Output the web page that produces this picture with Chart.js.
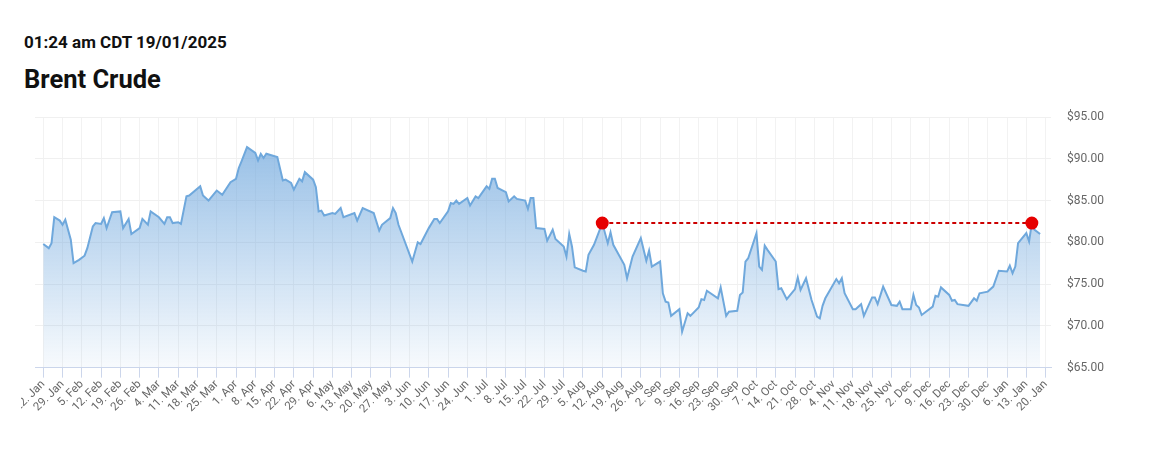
<!DOCTYPE html>
<html>
<head>
<meta charset="utf-8">
<script src="https://cdn.jsdelivr.net/npm/chart.js@4.4.1/dist/chart.umd.min.js"></script>
<style>
    body { margin: 0; background: #fff; font-family: Roboto, Arial, sans-serif; }
    #stamp { position: absolute; left: 24px; top: 32px; font-size: 17px; font-weight: bold; color: #111; }
    #title { position: absolute; left: 24px; top: 64px; font-size: 25.5px; font-weight: bold; color: #111; }
    #clip { position: absolute; left: 21px; top: 100px; width: 1139px; height: 316px; overflow: hidden; }
    #wrap { position: relative; left: -21px; width: 1160px; height: 316px; }
</style>
</head>
<body>
<div id="stamp">01:24 am CDT 19/01/2025</div>
<div id="title">Brent Crude</div>
<div id="clip"><div id="wrap"><canvas id="brentChart"></canvas></div></div>

<script>
// Data: day number counted from 22 Jan 2024, price in USD
const days = [0, 2, 3, 4, 6, 7, 8, 10, 11, 13, 15, 16, 18, 19, 21, 22, 23, 25, 28, 29,
    31, 32, 35, 36, 38, 39, 42, 44, 45, 46, 47, 49, 50, 52, 53, 57, 58, 60, 63, 65,
    68, 70, 71, 72, 74, 77, 78, 79, 80, 81, 85, 87, 88, 90, 91, 93, 94, 95, 98, 99,
    100, 101, 102, 105, 106, 108, 109, 113, 114, 116, 120, 122, 123, 126, 127, 128, 129, 134, 136, 137,
    140, 142, 143, 144, 147, 148, 149, 150, 151, 154, 155, 157, 158, 161, 162, 163, 164, 165, 168, 169,
    171, 172, 175, 176, 177, 178, 179, 182, 183, 185, 186, 189, 190, 191, 192, 193, 196, 197, 198, 200,
    203, 205, 206, 207, 211, 212, 214, 217, 219, 220, 221, 224, 225, 226, 227, 228, 231, 232, 234, 235,
    238, 239, 240, 241, 245, 246, 248, 249, 252, 253, 254, 255, 256, 259, 260, 261, 262, 263, 266, 267,
    268, 270, 273, 274, 275, 277, 279, 281, 282, 283, 284, 288, 289, 290, 291, 294, 295, 297, 298, 301,
    302, 303, 305, 308, 310, 311, 312, 315, 316, 317, 318, 319, 323, 324, 325, 326, 329, 330, 331, 332,
    336, 338, 339, 340, 343, 345, 347, 350, 351, 352, 353, 354, 357, 358, 359, 360, 362];
const prices = [79.8, 79.3, 79.9, 83.0, 82.6, 82.1, 82.7, 80.3, 77.5, 77.9, 78.4, 79.3, 81.9, 82.3, 82.2, 82.9, 81.7, 83.6, 83.7, 81.7,
    82.8, 81.0, 81.7, 82.8, 82.1, 83.7, 83.0, 82.2, 83.0, 83.0, 82.3, 82.4, 82.2, 85.5, 85.6, 86.7, 85.6, 85.0, 86.2, 85.7,
    87.2, 87.6, 88.9, 89.7, 91.4, 90.7, 89.8, 90.6, 90.1, 90.6, 90.2, 87.4, 87.5, 87.1, 86.3, 87.6, 87.3, 88.4, 87.5, 86.6,
    83.7, 83.8, 83.2, 83.5, 83.4, 84.1, 83.0, 83.5, 82.6, 84.1, 83.5, 81.4, 82.1, 82.9, 84.1, 83.5, 82.1, 77.7, 80.0, 79.8,
    81.7, 82.8, 82.8, 82.3, 83.7, 84.7, 84.6, 85.0, 84.6, 85.3, 84.4, 85.5, 85.3, 86.7, 86.4, 87.6, 87.6, 86.5, 86.0, 84.9,
    85.5, 85.2, 85.0, 84.0, 85.3, 85.3, 81.7, 81.6, 80.2, 81.5, 80.4, 79.5, 78.3, 81.0, 79.5, 77.0, 76.6, 76.5, 78.5, 79.7,
    82.3, 79.9, 81.2, 79.7, 77.3, 75.7, 78.3, 80.5, 77.8, 79.0, 77.1, 77.7, 73.9, 72.9, 72.8, 71.2, 72.0, 69.3, 71.5, 71.2,
    72.2, 73.2, 73.1, 74.2, 73.3, 74.6, 71.2, 71.7, 71.8, 73.7, 74.0, 77.7, 78.1, 81.1, 77.1, 76.7, 79.6, 79.1, 77.7, 74.4,
    74.5, 73.2, 74.4, 75.8, 74.3, 75.7, 73.1, 71.1, 70.9, 72.4, 73.3, 75.6, 75.1, 75.7, 73.9, 72.0, 72.0, 72.6, 71.2, 73.4,
    73.4, 72.6, 74.7, 72.5, 72.4, 72.9, 72.0, 72.0, 73.7, 72.5, 72.2, 71.3, 72.3, 73.6, 73.5, 74.6, 73.7, 73.0, 73.1, 72.6,
    72.4, 73.3, 73.0, 73.9, 74.1, 74.7, 76.6, 76.5, 77.2, 76.3, 77.1, 79.9, 81.1, 80.1, 82.3, 81.5, 81.0];

// Weekly axis labels (every 7 days from 22 Jan 2024)
const weekLabels = ['22. Jan', '29. Jan', '5. Feb', '12. Feb', '19. Feb', '26. Feb', '4. Mar', '11. Mar',
    '18. Mar', '25. Mar', '1. Apr', '8. Apr', '15. Apr', '22. Apr', '29. Apr', '6. May', '13. May',
    '20. May', '27. May', '3. Jun', '10. Jun', '17. Jun', '24. Jun', '1. Jul', '8. Jul', '15. Jul',
    '22. Jul', '29. Jul', '5. Aug', '12. Aug', '19. Aug', '26. Aug', '2. Sep', '9. Sep', '16. Sep',
    '23. Sep', '30. Sep', '7. Oct', '14. Oct', '21. Oct', '28. Oct', '4. Nov', '11. Nov', '18. Nov',
    '25. Nov', '2. Dec', '9. Dec', '16. Dec', '23. Dec', '30. Dec', '6. Jan', '13. Jan', '20. Jan'];

// Highlighted level: 12 Aug 2024 and 15 Jan 2025
const markDays = [203, 359];
const markPrices = [82.3, 82.3];

const priceTicks = [65, 70, 75, 80, 85, 90, 95];

// Area gradient
function areaFill(context) {
    const area = context.chart.chartArea;
    if (!area) return 'rgba(108,165,220,0.4)';
    const g = context.chart.ctx.createLinearGradient(0, area.top, 0, area.bottom);
    g.addColorStop(0, 'rgba(108,165,220,0.78)');
    g.addColorStop(1, 'rgba(108,165,220,0.05)');
    return g;
}

const ctx = document.getElementById('brentChart').getContext('2d');
const chart = new Chart(ctx, {
    type: 'line',
    data: {
        datasets: [{
            data: markDays.map((d, i) => ({ x: d, y: markPrices[i] })),
            borderColor: '#cc0000',
            borderWidth: 2,
            borderDash: [4, 3],
            pointRadius: 5.5,
            pointBackgroundColor: '#e60000',
            pointBorderColor: '#e60000',
            fill: false,
            order: 0
        }, {
            data: days.map((d, i) => ({ x: d, y: prices[i] })),
            borderColor: '#6fa8dc',
            borderWidth: 2,
            pointRadius: 0,
            tension: 0,
            fill: 'start',
            backgroundColor: areaFill,
            order: 1
        }]
    },
    options: {
        responsive: true,
        maintainAspectRatio: false,
        animation: false,
        layout: { padding: { left: 35, right: 52, top: 17, bottom: 0 } },
        plugins: { legend: { display: false }, tooltip: { enabled: false } },
        scales: {
            x: {
                type: 'linear',
                min: -3,
                max: 366,
                afterBuildTicks: (scale) => {
                    scale.ticks = weekLabels.map((_, i) => ({ value: i * 7 }));
                },
                ticks: {
                    autoSkip: false,
                    minRotation: 45,
                    maxRotation: 45,
                    padding: 0,
                    color: '#666',
                    font: { family: 'Roboto', size: 11.5 },
                    callback: (v, i) => weekLabels[i]
                },
                grid: { color: '#f2f2f2', tickColor: '#ccd6eb', tickLength: 10 },
                border: { color: '#ccd6eb' }
            },
            y: {
                position: 'right',
                min: 65,
                max: 95,
                afterBuildTicks: (scale) => {
                    scale.ticks = priceTicks.map(v => ({ value: v }));
                },
                ticks: {
                    padding: 4,
                    color: '#666',
                    font: { family: 'Roboto', size: 12 },
                    callback: (v) => '$' + v.toFixed(2)
                },
                grid: { color: '#f0f0f0', drawTicks: true, tickLength: 12, tickColor: 'rgba(0,0,0,0)' },
                border: { display: false }
            }
        }
    }
});
</script>
</body>
</html>
